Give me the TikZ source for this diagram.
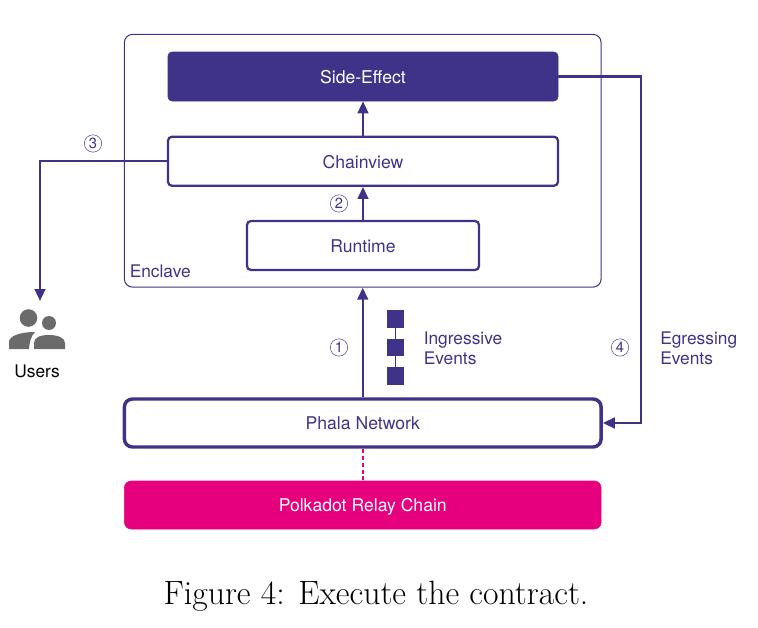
\documentclass[tikz,border=0pt]{standalone}
\usepackage{fontspec}
\setsansfont{TeX Gyre Heros}
\usetikzlibrary{arrows.meta}
\definecolor{phpurple}{HTML}{3F3389}
\definecolor{phpink}{HTML}{E6007E}
\definecolor{phgray}{HTML}{6B6B6B}
\begin{document}
\begin{tikzpicture}[x=0.75pt, y=-0.75pt]
	\tikzset{box/.style={draw=phpurple, rounded corners=3pt, inner sep=0pt, text=phpurple, text height=11pt, text depth=0.8pt, font=\sffamily\fontsize{13.2}{15}\selectfont}};
	\tikzset{lbl/.style={text=phpurple, inner sep=0pt, align=left, font=\sffamily\fontsize{13}{14.8}\selectfont}};
	\tikzset{num/.style={circle, draw=phpurple, line width=0.35pt, text=phpurple, inner sep=0pt, minimum size=13pt, font=\sffamily\fontsize{11}{12}\selectfont}};
	\tikzset{arr/.style={draw=phpurple, line width=1.7pt, -{Triangle[length=9pt, width=8pt]}}};
	\tikzset{blk/.style={fill=phpurple, minimum size=12.8pt, inner sep=0pt}};

	\useasboundingbox (0, 0) rectangle (758, 628);

	\node[box, line width=0.8pt, rounded corners=6pt, minimum width=357.5pt, minimum height=189.5pt] (enclave) at (362.75, 160.75) {};
	\node[box, fill=phpurple, text=white, minimum width=292.5pt, minimum height=36.75pt] (side) at (363, 76.5) {Side-Effect};
	\node[box, line width=1.7pt, minimum width=292.5pt, minimum height=36.75pt] (chain) at (363, 161.25) {Chainview};
	\node[box, line width=1.7pt, minimum width=174pt, minimum height=36.75pt] (runtime) at (363, 245.5) {Runtime};
	\node[box, line width=2.6pt, rounded corners=6pt, minimum width=357.5pt, minimum height=36pt] (phala) at (362.75, 423) {Phala Network};
	\node[box, draw=phpink, fill=phpink, text=white, rounded corners=5pt, minimum width=357.5pt, minimum height=36pt] (relay) at (362.75, 505) {Polkadot Relay Chain};

	\node[lbl, anchor=west] (enc) at (129.5, 271) {Enclave};
	\node[lbl, anchor=west] (ing) at (423.5, 348.5) {Ingressive\\Events};
	\node[lbl, anchor=west] (egr) at (660, 348.5) {Egressing\\Events};
	\node[inner sep=0pt, font=\sffamily\fontsize{13}{15}\selectfont] (users) at (37, 371) {Users};

	\node[num] (n1) at (339, 347.5) {1};
	\node[num] (n2) at (339, 203.5) {2};
	\node[num] (n3) at (93, 143.5) {3};
	\node[num] (n4) at (620, 347.5) {4};

	\node[blk] (b1) at (395.5, 319) {};
	\node[blk] (b2) at (395.5, 347.5) {};
	\node[blk] (b3) at (395.5, 376) {};
	\draw[phpurple, line width=0.6pt] (b1) to (b2);
	\draw[phpurple, line width=0.6pt] (b2) to (b3);

	% icon
	\fill[phgray] (28.5, 318) circle (8.8);
	\fill[phgray] (49, 323) circle (7);
	\fill[phgray] (9, 349) -- (9, 342) .. controls (9, 336) and (20, 332) .. (35, 332) .. controls (31, 336) and (29.5, 342) .. (29, 349) -- cycle;
	\fill[phgray] (34, 349) -- (34, 343) .. controls (34, 337) and (41, 335) .. (49, 335) .. controls (58, 335) and (65, 338) .. (65, 343) -- (65, 349) -- cycle;

	\coordinate (usertop) at (40, 301);
	\coordinate (cornerl) at (40, 161.25);

	\draw[arr] (runtime) to (chain);
	\draw[arr] (chain) to (side);
	\draw[arr] (phala) to (enclave);
	\draw[arr] (chain.west) -- (cornerl) -- (usertop);
	\draw[arr] (side.east) -- (641, 76.5) -- (641, 423) -- (phala.east);
	\draw[phpink, line width=1.5pt, dash pattern=on 3pt off 2.2pt] (phala) to (relay);

	\node[inner sep=0pt, font=\rmfamily\fontsize{25.3}{28}\selectfont] (caption) at (376, 596.5) {Figure 4: Execute the contract.};
\end{tikzpicture}
\end{document}
